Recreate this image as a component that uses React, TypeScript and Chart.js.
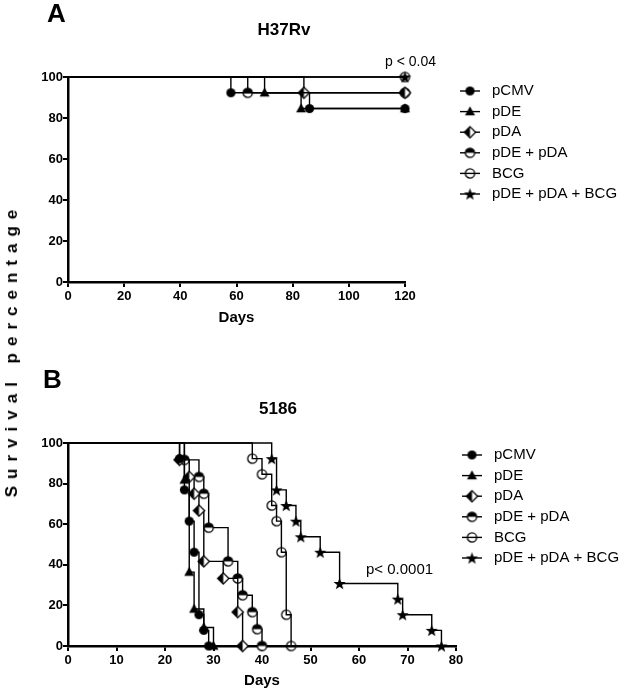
import { useEffect, useRef } from "react";
import { Chart, registerables } from "chart.js";

Chart.register(...registerables);

const FONT = '"Liberation Sans", Arial, sans-serif';

const SERIES = ["pCMV", "pDE", "pDA", "pDE + pDA", "BCG", "pDE + pDA + BCG"];
const MARKERS = ["circle", "triangle", "halfDiamond", "halfCircle", "openCircle", "star"];

// ---- Panel A: H37Rv (days, survival %) ----
const A_pCMV_days = [0, 58, 86, 120];
const A_pCMV_surv = [100, 92.3, 84.6, 84.6];
const A_pDE_days = [0, 70, 83, 120];
const A_pDE_surv = [100, 92.3, 84.6, 84.6];
const A_pDA_days = [0, 84, 120];
const A_pDA_surv = [100, 92.3, 92.3];
const A_pDEpDA_days = [0, 64, 120];
const A_pDEpDA_surv = [100, 92.3, 92.3];
const A_BCG_days = [0, 120];
const A_BCG_surv = [100, 100];
const A_all_days = [0, 120];
const A_all_surv = [100, 100];

// ---- Panel B: 5186 ----
const B_pCMV_days = [0, 23, 24, 25, 26, 27, 28, 29];
const B_pCMV_surv = [100, 92.3, 76.9, 61.5, 46.2, 15.4, 7.7, 0];
const B_pDE_days = [0, 24, 25, 26, 28, 30];
const B_pDE_surv = [100, 81.8, 36.4, 18.2, 9.1, 0];
const B_pDA_days = [0, 23, 25, 26, 27, 28, 32, 35, 36];
const B_pDA_surv = [100, 91.7, 83.3, 75, 66.7, 41.7, 33.3, 16.7, 0];
const B_pDEpDA_days = [0, 24, 27, 28, 29, 33, 35, 36, 38, 39, 40];
const B_pDEpDA_surv = [100, 91.7, 83.3, 75, 58.3, 41.7, 33.3, 25, 16.7, 8.3, 0];
const B_BCG_days = [0, 38, 40, 42, 43, 44, 45, 46];
const B_BCG_surv = [100, 92.3, 84.6, 69.2, 61.5, 46.2, 15.4, 0];
const B_all_days = [0, 42, 43, 45, 47, 48, 52, 56, 68, 69, 75, 77];
const B_all_surv = [100, 92.3, 76.9, 69.2, 61.5, 53.8, 46.2, 30.8, 23.1, 15.4, 7.7, 0];

const A_X_MAX = 120;
const A_X_STEP = 20;
const B_X_MAX = 80;
const B_X_STEP = 10;
const Y_MAX = 100;
const Y_STEP = 20;

function makeMarker(kind: string): HTMLCanvasElement {
  const s = 15;
  const c = document.createElement("canvas");
  c.width = s;
  c.height = s;
  const g = c.getContext("2d")!;
  const cx = s / 2;
  const cy = s / 2;
  g.lineWidth = 1.3;
  g.strokeStyle = "#000";
  g.fillStyle = "#000";
  const r = 4.6;
  if (kind === "circle") {
    g.beginPath();
    g.arc(cx, cy, r, 0, Math.PI * 2);
    g.fill();
  } else if (kind === "triangle") {
    g.beginPath();
    g.moveTo(cx, cy - 5.2);
    g.lineTo(cx + 5, cy + 3.8);
    g.lineTo(cx - 5, cy + 3.8);
    g.closePath();
    g.fill();
  } else if (kind === "halfCircle") {
    g.beginPath();
    g.arc(cx, cy, r, 0, Math.PI * 2);
    g.fillStyle = "#fff";
    g.fill();
    g.beginPath();
    g.arc(cx, cy, r, Math.PI, Math.PI * 2);
    g.closePath();
    g.fillStyle = "#000";
    g.fill();
    g.beginPath();
    g.arc(cx, cy, r, 0, Math.PI * 2);
    g.stroke();
  } else if (kind === "halfDiamond") {
    const d = 5.6;
    g.beginPath();
    g.moveTo(cx, cy - d);
    g.lineTo(cx + d, cy);
    g.lineTo(cx, cy + d);
    g.lineTo(cx - d, cy);
    g.closePath();
    g.fillStyle = "#fff";
    g.fill();
    g.beginPath();
    g.moveTo(cx, cy - d);
    g.lineTo(cx - d, cy);
    g.lineTo(cx, cy + d);
    g.closePath();
    g.fillStyle = "#000";
    g.fill();
    g.beginPath();
    g.moveTo(cx, cy - d);
    g.lineTo(cx + d, cy);
    g.lineTo(cx, cy + d);
    g.lineTo(cx - d, cy);
    g.closePath();
    g.stroke();
  } else if (kind === "openCircle") {
    g.beginPath();
    g.arc(cx, cy, r, 0, Math.PI * 2);
    g.stroke();
  } else if (kind === "star") {
    const ro = 6.4;
    const ri = 2.6;
    g.beginPath();
    for (let i = 0; i < 10; i++) {
      const ang = -Math.PI / 2 + (i * Math.PI) / 5;
      const rr = i % 2 === 0 ? ro : ri;
      const px = cx + rr * Math.cos(ang);
      const py = cy + 0.6 + rr * Math.sin(ang);
      if (i === 0) g.moveTo(px, py);
      else g.lineTo(px, py);
    }
    g.closePath();
    g.fill();
  }
  return c;
}

type PanelCfg = {
  days: number[][];
  surv: number[][];
  xMax: number;
  xStep: number;
  padding: { left: number; right: number; top: number; bottom: number };
  xAxisHeight: number;
  legendX: number;
  legendY: number;
  letter: string;
  letterX: number;
  letterY: number;
  title: string;
  titleX: number;
  titleY: number;
  pText: string;
  pX: number;
  pY: number;
  pSize: number;
};

function buildChart(canvas: HTMLCanvasElement, cfg: PanelCfg, markers: HTMLCanvasElement[]) {
  const datasets = cfg.days.map((d, si) => ({
    label: SERIES[si],
    data: d.map((x, i) => ({ x, y: cfg.surv[si][i] })),
    stepped: true as const,
    borderColor: "#000",
    borderWidth: 1.4,
    backgroundColor: "#000",
    pointStyle: markers[si],
    pointRadius: (ctx: any) => (ctx.dataIndex === 0 ? 0 : 5),
    pointHoverRadius: 0,
    fill: false,
    clip: false as const,
    tension: 0,
  }));

  const decor = {
    id: "decor" + cfg.letter,
    afterDraw(chart: any) {
      const ctx = chart.ctx as CanvasRenderingContext2D;
      ctx.save();
      ctx.fillStyle = "#000";
      ctx.strokeStyle = "#000";
      // panel letter
      ctx.font = `bold 26px ${FONT}`;
      ctx.textAlign = "left";
      ctx.textBaseline = "alphabetic";
      ctx.fillText(cfg.letter, cfg.letterX, cfg.letterY);
      // title
      ctx.font = `bold 17px ${FONT}`;
      ctx.textAlign = "center";
      ctx.textBaseline = "middle";
      ctx.fillText(cfg.title, cfg.titleX, cfg.titleY);
      // p value
      ctx.font = `${cfg.pSize}px ${FONT}`;
      ctx.textAlign = "left";
      ctx.fillText(cfg.pText, cfg.pX, cfg.pY);
      // legend
      ctx.font = `15px ${FONT}`;
      SERIES.forEach((name, i) => {
        const y = cfg.legendY + i * 20.6;
        ctx.lineWidth = 1.4;
        ctx.beginPath();
        ctx.moveTo(cfg.legendX, y);
        ctx.lineTo(cfg.legendX + 20, y);
        ctx.stroke();
        const m = markers[i];
        ctx.drawImage(m, cfg.legendX + 10 - m.width / 2, y - m.height / 2);
        ctx.fillText(name, cfg.legendX + 32, y);
      });
      ctx.restore();
    },
  };

  return new Chart(canvas, {
    type: "line",
    data: { datasets },
    options: {
      responsive: false,
      animation: false,
      events: [],
      layout: { padding: cfg.padding },
      plugins: { legend: { display: false }, tooltip: { enabled: false }, title: { display: false } },
      scales: {
        x: {
          type: "linear",
          min: 0,
          max: cfg.xMax,
          afterFit: (s: any) => {
            s.height = cfg.xAxisHeight;
          },
          ticks: {
            stepSize: cfg.xStep,
            color: "#000",
            font: { family: FONT, size: 13, weight: "bold" },
            padding: 2,
            maxRotation: 0,
            autoSkip: false,
          },
          grid: { display: true, drawOnChartArea: false, drawTicks: true, tickLength: 5, color: "#000", lineWidth: 2 },
          border: { display: true, color: "#000", width: 2.5 },
          title: { display: true, text: "Days", color: "#000", font: { family: FONT, size: 15, weight: "bold" }, padding: 0 },
        },
        y: {
          type: "linear",
          min: 0,
          max: Y_MAX,
          afterFit: (s: any) => {
            s.width = 40;
          },
          ticks: {
            stepSize: Y_STEP,
            color: "#000",
            font: { family: FONT, size: 13, weight: "bold" },
            padding: 0,
          },
          grid: { display: true, drawOnChartArea: false, drawTicks: true, tickLength: 5, color: "#000", lineWidth: 2 },
          border: { display: true, color: "#000", width: 2.5 },
        },
      },
    } as any,
    plugins: [decor],
  });
}

export default function App() {
  const refA = useRef<HTMLCanvasElement>(null);
  const refB = useRef<HTMLCanvasElement>(null);

  useEffect(() => {
    const markers = MARKERS.map(makeMarker);
    const cfgA: PanelCfg = {
      days: [A_pCMV_days, A_pDE_days, A_pDA_days, A_pDEpDA_days, A_BCG_days, A_all_days],
      surv: [A_pCMV_surv, A_pDE_surv, A_pDA_surv, A_pDEpDA_surv, A_BCG_surv, A_all_surv],
      xMax: A_X_MAX,
      xStep: A_X_STEP,
      padding: { left: 28, right: 219, top: 77, bottom: 13 },
      xAxisHeight: 45,
      legendX: 460,
      legendY: 91,
      letter: "A",
      letterX: 47,
      letterY: 22,
      title: "H37Rv",
      titleX: 284,
      titleY: 30,
      pText: "p < 0.04",
      pX: 385,
      pY: 62,
      pSize: 14,
    };
    const cfgB: PanelCfg = {
      days: [B_pCMV_days, B_pDE_days, B_pDA_days, B_pDEpDA_days, B_BCG_days, B_all_days],
      surv: [B_pCMV_surv, B_pDE_surv, B_pDA_surv, B_pDEpDA_surv, B_BCG_surv, B_all_surv],
      xMax: B_X_MAX,
      xStep: B_X_STEP,
      padding: { left: 28, right: 168, top: 93, bottom: 2 },
      xAxisHeight: 44,
      legendX: 462,
      legendY: 105,
      letter: "B",
      letterX: 43,
      letterY: 38,
      title: "5186",
      titleX: 278,
      titleY: 59,
      pText: "p< 0.0001",
      pX: 366,
      pY: 220,
      pSize: 15,
    };
    const a = buildChart(refA.current!, cfgA, markers);
    const b = buildChart(refB.current!, cfgB, markers);
    return () => {
      a.destroy();
      b.destroy();
    };
  }, []);

  return (
    <div style={{ position: "absolute", left: 0, top: 0, width: 624, height: 692, background: "#fff", overflow: "hidden" }}>
      <canvas ref={refA} width={624} height={340} style={{ position: "absolute", left: 0, top: 0 }} />
      <canvas ref={refB} width={624} height={342} style={{ position: "absolute", left: 0, top: 350 }} />
      <div
        style={{
          position: "absolute",
          left: 12,
          top: 350,
          transform: "translate(-50%, -50%) rotate(-90deg)",
          whiteSpace: "nowrap",
          font: `bold 17px ${FONT}`,
          letterSpacing: "7px",
          color: "#000",
        }}
      >
        Survival percentage
      </div>
    </div>
  );
}
